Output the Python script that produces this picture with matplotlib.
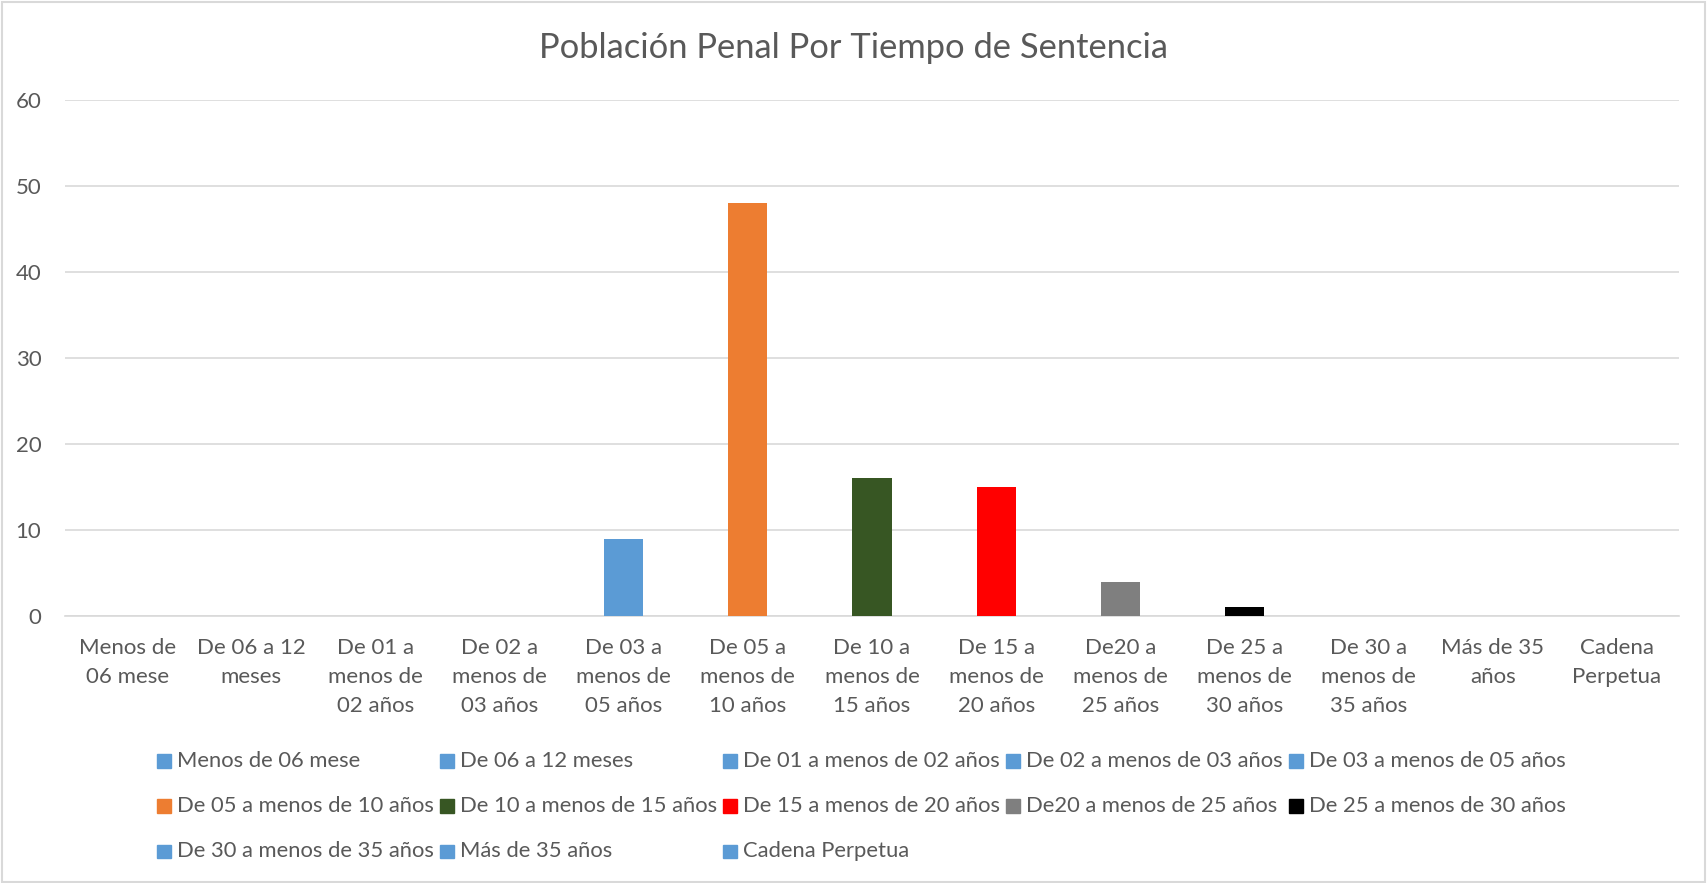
import matplotlib.pyplot as plt
from matplotlib.patches import Rectangle

# Data
categories = ["Menos de\n06 mese", "De 06 a 12\nmeses", "De 01 a\nmenos de\n02 años",
              "De 02 a\nmenos de\n03 años", "De 03 a\nmenos de\n05 años", "De 05 a\nmenos de\n10 años",
              "De 10 a\nmenos de\n15 años", "De 15 a\nmenos de\n20 años", "De20 a\nmenos de\n25 años",
              "De 25 a\nmenos de\n30 años", "De 30 a\nmenos de\n35 años", "Más de 35\naños",
              "Cadena\nPerpetua"]
series_names = ["Menos de 06 mese", "De 06 a 12 meses", "De 01 a menos de 02 años",
                "De 02 a menos de 03 años", "De 03 a menos de 05 años", "De 05 a menos de 10 años",
                "De 10 a menos de 15 años", "De 15 a menos de 20 años", "De20 a menos de 25 años",
                "De 25 a menos de 30 años", "De 30 a menos de 35 años", "Más de 35 años",
                "Cadena Perpetua"]
values = [0, 0, 0, 0, 9, 48, 16, 15, 4, 1, 0, 0, 0]
colors = ["#5B9BD5", "#5B9BD5", "#5B9BD5", "#5B9BD5", "#5B9BD5", "#ED7D31", "#375623",
          "#FF0000", "#7F7F7F", "#000000", "#5B9BD5", "#5B9BD5", "#5B9BD5"]

text_color = "#595959"
plt.rcParams['font.family'] = ['Lato', 'DejaVu Sans']

fig = plt.figure(figsize=(17.07, 8.83), dpi=100)
ax = fig.add_axes([0.0381, 0.3024, 0.9455, 0.5843])

x = list(range(len(values)))
ax.bar(x, values, width=0.316, color=colors, zorder=3)

ax.set_xlim(-0.5, len(values) - 0.5)
ax.set_ylim(0, 60)
ax.set_yticks(range(0, 61, 10))
ax.grid(axis='y', color="#D9D9D9", linewidth=1.2, zorder=0)
for s in ["top", "right", "left"]:
    ax.spines[s].set_visible(False)
ax.spines["bottom"].set_color("#D9D9D9")
ax.spines["bottom"].set_linewidth(1.2)
ax.tick_params(axis='both', length=0, colors=text_color, labelsize=16)
ax.tick_params(axis='y', pad=17)
ax.tick_params(axis='x', pad=16)
ax.set_xticks(x)
ax.set_xticklabels(categories, linespacing=1.57, va='top')

fig.text(0.5, 0.946, "Población Penal Por Tiempo de Sentencia", ha='center', va='center',
         fontsize=24.8, color=text_color)

# legend, Excel style: 5 equal columns, filled row by row
col_x = 0.0958
col_w = 0.1658
row_y = [0.1385, 0.0875, 0.0365]
for i, (name, c) in enumerate(zip(series_names, colors)):
    r, k = divmod(i, 5)
    lx = col_x + k * col_w
    ly = row_y[r]
    fig.patches.append(Rectangle((lx - 0.0037, ly - 0.008), 0.0078, 0.0151,
                                 transform=fig.transFigure, color=c, figure=fig))
    fig.text(lx + 0.0078, ly, name, ha='left', va='center', fontsize=15.8, color=text_color)

# outer border
fig.patches.append(Rectangle((0.001, 0.001), 0.998, 0.997, transform=fig.transFigure,
                             fill=False, edgecolor="#D9D9D9", linewidth=1.5, figure=fig))

fig.savefig("out.png", dpi=100, facecolor="white")
